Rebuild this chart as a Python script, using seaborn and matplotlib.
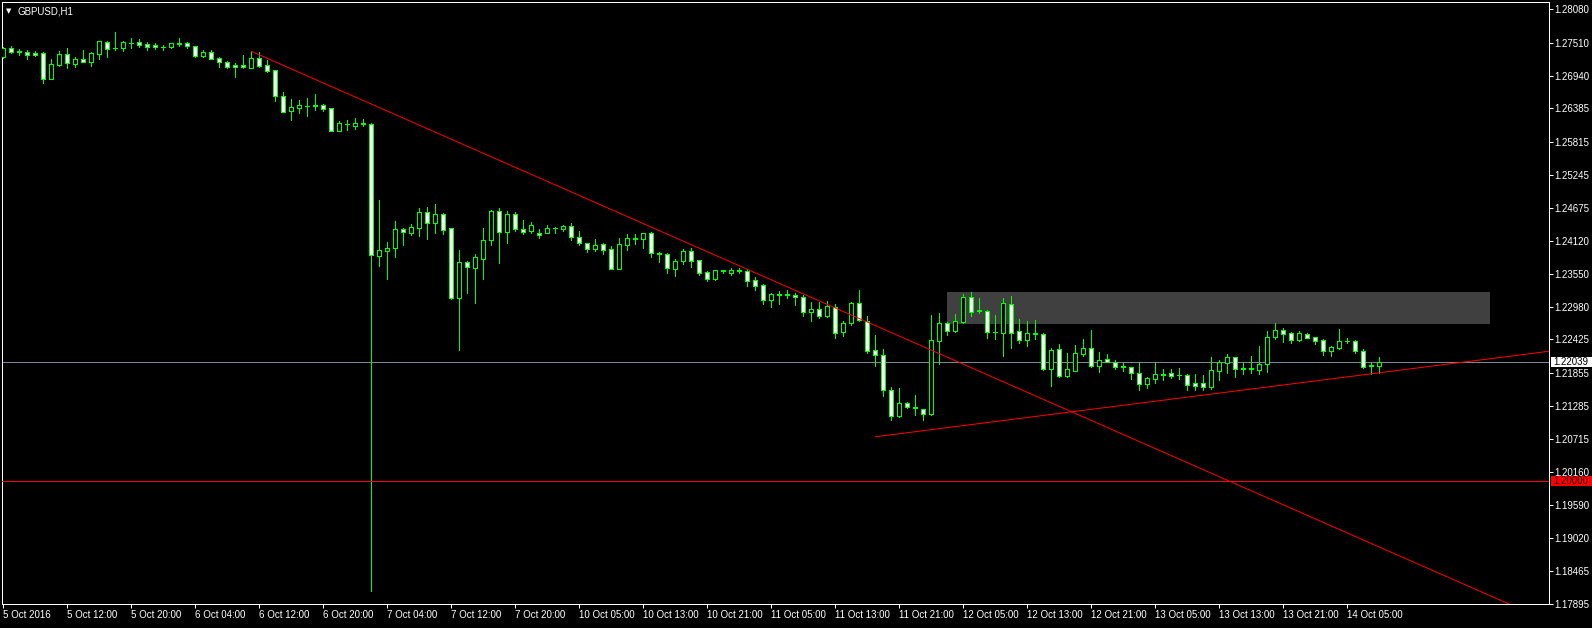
import numpy as np
import pandas as pd
import matplotlib
matplotlib.use("Agg")
import matplotlib.pyplot as plt
import matplotlib.transforms as mtransforms
from matplotlib.patches import Rectangle
import seaborn as sns

# GBPUSD H1 candles, 5 Oct 2016 04:00 -> 14 Oct 2016
opens = [1.27258, 1.27412, 1.27361, 1.27344, 1.27332, 1.27326, 1.26892, 1.27132, 1.27309, 1.27149,
         1.27224, 1.27184, 1.27321, 1.27515, 1.27423, 1.27423, 1.27509, 1.27521, 1.27486, 1.27469,
         1.27435, 1.27429, 1.27498, 1.27503, 1.27446, 1.27275, 1.27349, 1.27241, 1.27184, 1.27121,
         1.27121, 1.27081, 1.27246, 1.27127, 1.27035, 1.26590, 1.26333, 1.26396, 1.26419, 1.26424,
         1.26436, 1.26385, 1.26001, 1.26116, 1.26087, 1.26130, 1.26111, 1.23860, 1.23947, 1.23986,
         1.24312, 1.24255, 1.24340, 1.24603, 1.24426, 1.24575, 1.24329, 1.23130, 1.23747, 1.23644,
         1.23809, 1.24123, 1.24620, 1.24261, 1.24569, 1.24312, 1.24289, 1.24249, 1.24255, 1.24329,
         1.24323, 1.24369, 1.24181, 1.24078, 1.23981, 1.24061, 1.23969, 1.23638, 1.24049, 1.24158,
         1.24152, 1.24243, 1.23900, 1.23883, 1.23638, 1.23763, 1.23940, 1.23781, 1.23581, 1.23461,
         1.23615, 1.23569, 1.23598, 1.23598, 1.23444, 1.23358, 1.23107, 1.23192, 1.23198, 1.23192,
         1.23158, 1.22901, 1.22947, 1.22827, 1.22987, 1.22553, 1.22701, 1.23044, 1.22747, 1.22239,
         1.22153, 1.21554, 1.21120, 1.21331, 1.21262, 1.21228, 1.21143, 1.22393, 1.22701, 1.22576,
         1.22730, 1.23147, 1.22924, 1.22907, 1.22559, 1.22542, 1.23027, 1.22564, 1.22422, 1.22530,
         1.22513, 1.21925, 1.22256, 1.21805, 1.21891, 1.22182, 1.22273, 1.21976, 1.22085, 1.22033,
         1.21965, 1.21948, 1.21845, 1.21657, 1.21754, 1.21828, 1.21845, 1.21822, 1.21811, 1.21674,
         1.21674, 1.21617, 1.21891, 1.22028, 1.22119, 1.21931, 1.21920, 1.21902, 1.21999, 1.22473,
         1.22582, 1.22530, 1.22416, 1.22513, 1.22462, 1.22410, 1.22234, 1.22285, 1.22393, 1.22393,
         1.22222, 1.21976, 1.21976]
highs = [1.27429, 1.27452, 1.27395, 1.27383, 1.27366, 1.27344, 1.27224, 1.27366, 1.27423, 1.27269,
         1.27383, 1.27355, 1.27532, 1.27532, 1.27692, 1.27543, 1.27589, 1.27572, 1.27526, 1.27498,
         1.27475, 1.27509, 1.27589, 1.27521, 1.27458, 1.27383, 1.27378, 1.27258, 1.27201, 1.27161,
         1.27304, 1.27361, 1.27355, 1.27212, 1.27041, 1.26658, 1.26544, 1.26527, 1.26561, 1.26630,
         1.26453, 1.26390, 1.26167, 1.26184, 1.26213, 1.26202, 1.26128, 1.24814, 1.24095, 1.24455,
         1.24329, 1.24403, 1.24677, 1.24694, 1.24746, 1.24586, 1.24335, 1.23958, 1.23769, 1.23889,
         1.24335, 1.24643, 1.24677, 1.24620, 1.24603, 1.24466, 1.24438, 1.24312, 1.24380, 1.24358,
         1.24386, 1.24420, 1.24289, 1.24078, 1.24141, 1.24084, 1.24026, 1.24158, 1.24232, 1.24232,
         1.24249, 1.24272, 1.23918, 1.23900, 1.23798, 1.23975, 1.23986, 1.23786, 1.23592, 1.23620,
         1.23620, 1.23643, 1.23649, 1.23626, 1.23489, 1.23369, 1.23227, 1.23261, 1.23272, 1.23227,
         1.23192, 1.23072, 1.23072, 1.23084, 1.23032, 1.22741, 1.23072, 1.23272, 1.22827, 1.22502,
         1.22262, 1.21611, 1.21594, 1.21348, 1.21474, 1.21228, 1.22844, 1.22884, 1.22730, 1.22861,
         1.23204, 1.23238, 1.23135, 1.22930, 1.22844, 1.23135, 1.23170, 1.22776, 1.22741, 1.22758,
         1.22542, 1.22273, 1.22347, 1.22187, 1.22330, 1.22433, 1.22587, 1.22205, 1.22176, 1.22073,
         1.22016, 1.21959, 1.22028, 1.21788, 1.22028, 1.21914, 1.21914, 1.21931, 1.21828, 1.21828,
         1.21817, 1.22125, 1.22074, 1.22176, 1.22125, 1.22016, 1.22142, 1.22313, 1.22570, 1.22702,
         1.22622, 1.22559, 1.22570, 1.22542, 1.22473, 1.22439, 1.22308, 1.22599, 1.22445, 1.22416,
         1.22262, 1.22016, 1.22119]
lows = [1.27241, 1.27338, 1.27298, 1.27235, 1.27286, 1.26824, 1.26887, 1.27115, 1.27081, 1.27098,
        1.27178, 1.27115, 1.27235, 1.27269, 1.27383, 1.27372, 1.27423, 1.27441, 1.27389, 1.27395,
        1.27378, 1.27412, 1.27446, 1.27418, 1.27269, 1.27258, 1.27224, 1.27098, 1.27069, 1.26921,
        1.27081, 1.27075, 1.27098, 1.27001, 1.26516, 1.26316, 1.26184, 1.26299, 1.26253, 1.26356,
        1.26333, 1.25990, 1.25996, 1.26013, 1.26030, 1.26082, 1.18116, 1.23689, 1.23461, 1.23844,
        1.24044, 1.24215, 1.24203, 1.24146, 1.24255, 1.24226, 1.23113, 1.22245, 1.23216, 1.23056,
        1.23467, 1.24049, 1.23741, 1.24084, 1.24289, 1.24226, 1.24255, 1.24169, 1.24255, 1.24255,
        1.24289, 1.24135, 1.24044, 1.23929, 1.23947, 1.23895, 1.23632, 1.23632, 1.23958, 1.24061,
        1.23997, 1.23843, 1.23746, 1.23569, 1.23518, 1.23712, 1.23672, 1.23524, 1.23432, 1.23444,
        1.23569, 1.23535, 1.23558, 1.23341, 1.23272, 1.23032, 1.22987, 1.23032, 1.23130, 1.23015,
        1.22827, 1.22741, 1.22798, 1.22815, 1.22456, 1.22490, 1.22667, 1.22747, 1.22187, 1.21976,
        1.21462, 1.21045, 1.21103, 1.21245, 1.21131, 1.21045, 1.21131, 1.22010, 1.22507, 1.22559,
        1.22713, 1.22833, 1.22884, 1.22450, 1.22433, 1.22148, 1.22285, 1.22370, 1.22313, 1.22433,
        1.21902, 1.21628, 1.21776, 1.21776, 1.21885, 1.22142, 1.21959, 1.21873, 1.22033, 1.21919,
        1.21891, 1.21748, 1.21560, 1.21600, 1.21685, 1.21731, 1.21765, 1.21754, 1.21560, 1.21560,
        1.21560, 1.21577, 1.21731, 1.21857, 1.21788, 1.21834, 1.21857, 1.21834, 1.21874, 1.22439,
        1.22382, 1.22365, 1.22399, 1.22450, 1.22353, 1.22165, 1.22148, 1.22262, 1.22359, 1.22199,
        1.21937, 1.21834, 1.21845]
closes = [1.27412, 1.27355, 1.27349, 1.27292, 1.27292, 1.26892, 1.27144, 1.27309, 1.27155, 1.27229,
          1.27184, 1.27332, 1.27532, 1.27406, 1.27412, 1.27515, 1.27503, 1.27475, 1.27429, 1.27429,
          1.27429, 1.27498, 1.27492, 1.27452, 1.27275, 1.27355, 1.27235, 1.27172, 1.27098, 1.27092,
          1.27087, 1.27241, 1.27115, 1.27029, 1.26590, 1.26327, 1.26401, 1.26436, 1.26424, 1.26436,
          1.26379, 1.26001, 1.26128, 1.26110, 1.26133, 1.26110, 1.23867, 1.23952, 1.23986, 1.24312,
          1.24272, 1.24346, 1.24609, 1.24426, 1.24569, 1.24306, 1.23130, 1.23747, 1.23661, 1.23832,
          1.24123, 1.24620, 1.24261, 1.24569, 1.24312, 1.24272, 1.24380, 1.24209, 1.24329, 1.24335,
          1.24369, 1.24175, 1.24072, 1.23981, 1.24038, 1.23964, 1.23638, 1.24061, 1.24158, 1.24152,
          1.24243, 1.23900, 1.23895, 1.23643, 1.23769, 1.23940, 1.23775, 1.23569, 1.23461, 1.23615,
          1.23592, 1.23615, 1.23609, 1.23432, 1.23341, 1.23107, 1.23198, 1.23205, 1.23192, 1.23147,
          1.22901, 1.22947, 1.22827, 1.22998, 1.22541, 1.22713, 1.23044, 1.22758, 1.22233, 1.22153,
          1.21554, 1.21120, 1.21331, 1.21262, 1.21251, 1.21143, 1.22410, 1.22701, 1.22576, 1.22736,
          1.23147, 1.22901, 1.22913, 1.22547, 1.22547, 1.23044, 1.22542, 1.22422, 1.22530, 1.22519,
          1.21925, 1.22245, 1.21799, 1.21919, 1.22187, 1.22273, 1.21976, 1.22068, 1.22045, 1.21959,
          1.21953, 1.21845, 1.21657, 1.21760, 1.21828, 1.21822, 1.21805, 1.21811, 1.21640, 1.21628,
          1.21617, 1.21897, 1.22034, 1.22119, 1.21914, 1.21920, 1.21931, 1.21999, 1.22473, 1.22582,
          1.22525, 1.22422, 1.22530, 1.22456, 1.22405, 1.22234, 1.22291, 1.22393, 1.22405, 1.22222,
          1.21959, 1.21982, 1.22039]

x_labels = ["5 Oct 2016", "5 Oct 12:00", "5 Oct 20:00", "6 Oct 04:00", "6 Oct 12:00", "6 Oct 20:00",
            "7 Oct 04:00", "7 Oct 12:00", "7 Oct 20:00", "10 Oct 05:00", "10 Oct 13:00", "10 Oct 21:00",
            "11 Oct 05:00", "11 Oct 13:00", "11 Oct 21:00", "12 Oct 05:00", "12 Oct 13:00", "12 Oct 21:00",
            "13 Oct 05:00", "13 Oct 13:00", "13 Oct 21:00", "14 Oct 05:00"]
price_ticks = [1.28080, 1.27510, 1.26940, 1.26385, 1.25815, 1.25245, 1.24675, 1.24120, 1.23550, 1.22980,
               1.22425, 1.21855, 1.21285, 1.20715, 1.20160, 1.19590, 1.19020, 1.18465, 1.17895]

bid_price = 1.22039
level_price = 1.20000
down_anchor = [(31, 1.27361), (115, 1.22302)]
up_anchor = [(109, 1.20758), (190, 1.22167)]
zone_bars = [118, 185.8]
zone_prices = [1.22690, 1.23238]

sns.set_theme(style="dark", rc={"axes.facecolor": "black", "figure.facecolor": "black",
                                "axes.grid": False})
plt.rcParams['font.family'] = ['Liberation Sans', 'DejaVu Sans']

df = pd.DataFrame({"open": opens, "high": highs, "low": lows, "close": closes})
df["bar"] = np.arange(len(df))
df["bull"] = df["close"] >= df["open"]
df["body_lo"] = df[["open", "close"]].min(axis=1)
df["body_h"] = (df["close"] - df["open"]).abs()

W, H = 1592, 628
fig = plt.figure(figsize=(W / 100, H / 100), dpi=100)
ax = fig.add_axes([2 / W, 24 / H, 1547 / W, 602 / H])
ax.set_facecolor("black")

green = "#00ff00"
px = 0.72

# support / resistance zone (background object)
ax.add_patch(Rectangle((zone_bars[0], zone_prices[0]), zone_bars[1] - zone_bars[0],
                       zone_prices[1] - zone_prices[0], facecolor="#404040", edgecolor="none", zorder=1))

ax.axhline(bid_price, color="#778899", lw=px, zorder=2)

ax.vlines(df["bar"], df["low"], df["high"], color=green, lw=px, antialiased=False, zorder=3)
ax.bar(df["bar"], df["body_h"], bottom=df["body_lo"], width=0.5,
       color=np.where(df["bull"], "black", "white"), edgecolor=green, linewidth=px,
       antialiased=False, zorder=4)

# trend rays
for (x0, y0), (x1, y1) in [down_anchor, up_anchor]:
    slope = (y1 - y0) / (x1 - x0)
    x_end = 200
    ax.plot([x0, x_end], [y0, y0 + slope * (x_end - x0)], color="red", lw=px, zorder=5)

ax.axhline(level_price, color="red", lw=px, zorder=5)

ax.set_xlim(-0.1625, 193.21)
ax.set_ylim(1.17893, 1.28206)

ax.yaxis.tick_right()
ax.set_yticks(price_ticks)
ax.set_yticklabels([f"{p:.5f}" for p in price_ticks])
ax.set_xticks(np.arange(len(x_labels)) * 8)
ax.set_xticklabels(x_labels)
for lab in ax.get_xticklabels():
    lab.set_ha("left")
ax.tick_params(axis="y", which="both", left=False, right=True, labelleft=False, labelright=True,
               colors="white", labelsize=7, length=3, width=px, pad=1, direction="out")
ax.tick_params(axis="x", bottom=True, colors="white", labelsize=7, length=3, width=px,
               pad=1.5, direction="out")
for s in ax.spines.values():
    s.set_color("white")
    s.set_linewidth(px)
    s.set_visible(True)

# price labels on the right axis
blend = mtransforms.blended_transform_factory(ax.transAxes, ax.transData)
x0_ax = (1551 - 2) / 1547
for price, fc, tc in [(bid_price, "white", "black"), (level_price, "red", "#300000")]:
    ax.add_patch(Rectangle((x0_ax, price - 0.00085), 0.03, 0.0017, transform=blend,
                           facecolor=fc, edgecolor="none", clip_on=False, zorder=10))
    ax.text((1553 - 2) / 1547, price, f"{price:.5f}", transform=blend, ha="left", va="center",
            color=tc, fontsize=7, clip_on=False, zorder=11)

fig.text(6 / W, 1 - 11 / H, "\u25bc", color="white", fontsize=5, va="center",
         family=["DejaVu Sans"])
fig.text(18 / W, 1 - 11 / H, "GBPUSD,H1", color="white", fontsize=7, va="center")

fig.savefig("out.png", dpi=100, facecolor="black")
